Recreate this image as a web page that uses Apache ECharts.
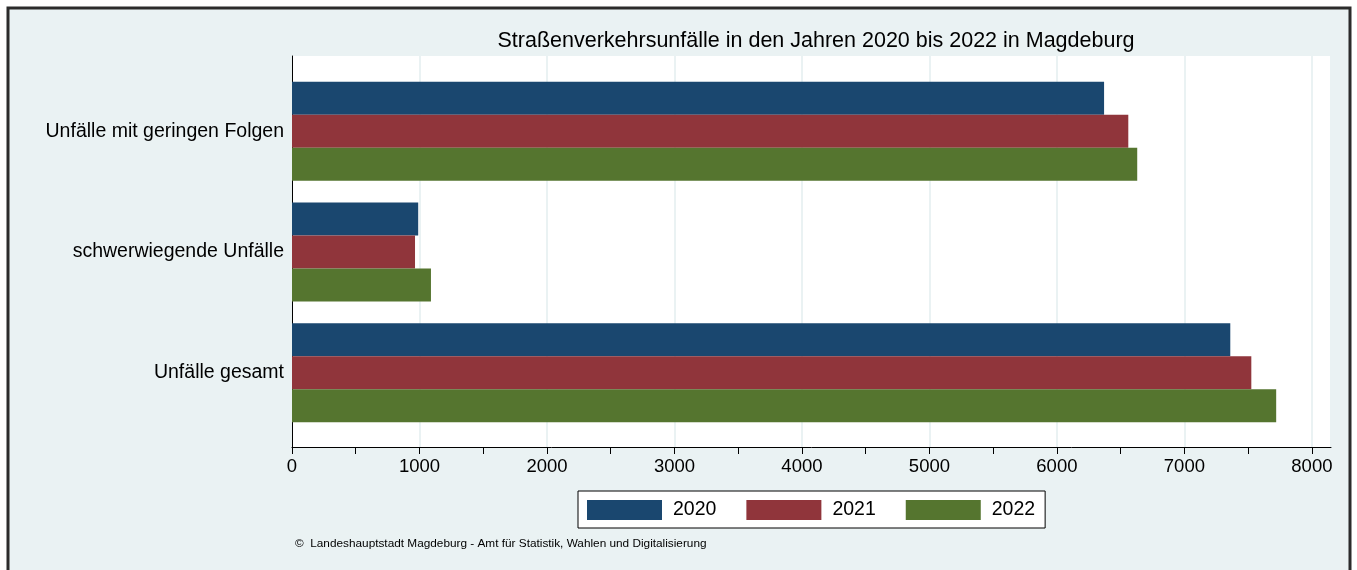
<!DOCTYPE html>
<html>
<head>
<meta charset="utf-8">
<script src="https://cdn.jsdelivr.net/npm/echarts@6/dist/echarts.min.js"></script>
<style>
  html, body { margin: 0; padding: 0; background: #fff; }
  #chart { width: 1357px; height: 570px; }
</style>
</head>
<body>
<div id="chart"></div>
<script>
// Kategorien von unten nach oben (Kategorieachse startet unten)
const categories = ['Unfälle gesamt', 'schwerwiegende Unfälle', 'Unfälle mit geringen Folgen'];
const years = ['2020', '2021', '2022'];
const values2020 = [7360, 990, 6370];
const values2021 = [7525, 965, 6560];
const values2022 = [7720, 1090, 6630];
const xTicks = [0, 500, 1000, 1500, 2000, 2500, 3000, 3500, 4000, 4500, 5000, 5500, 6000, 6500, 7000, 7500, 8000];
const xLabels = [0, 1000, 2000, 3000, 4000, 5000, 6000, 7000, 8000];
const xMax = 8150;

const colors = ['#1a476f', '#90353b', '#55752f'];
const font = 'Liberation Sans, Arial, sans-serif';

const myChart = echarts.init(document.getElementById('chart'));

myChart.setOption({
    animation: false,
    color: colors,
    textStyle: { fontFamily: font },
    graphic: [
        {
            type: 'rect', z: -100, silent: true,
            shape: { x: 8, y: 8, width: 1342, height: 580 },
            style: { fill: '#eaf2f3', stroke: '#2b2b2b', lineWidth: 3 }
        },
        {
            type: 'text', left: 295, top: 538, silent: true,
            style: {
                text: '©  Landeshauptstadt Magdeburg - Amt für Statistik, Wahlen und Digitalisierung',
                font: '11.8px ' + font, fill: '#000'
            }
        }
    ],
    title: {
        text: 'Straßenverkehrsunfälle in den Jahren 2020 bis 2022 in Magdeburg',
        left: 811, top: 25, textAlign: 'center',
        textStyle: { fontSize: 21.5, fontWeight: 'normal', color: '#000', fontFamily: font }
    },
    legend: {
        data: years,
        left: 578, top: 491,
        orient: 'horizontal',
        itemWidth: 75, itemHeight: 20, itemGap: 30,
        padding: [9, 10, 8, 9],
        backgroundColor: '#fff',
        borderColor: '#000', borderWidth: 1,
        icon: 'rect',
        textStyle: { fontSize: 19.5, lineHeight: 20, color: '#000', fontFamily: font, padding: [0, 0, 0, 6] }
    },
    grid: [
        // Balken
        { left: 292, right: 26, top: 71, height: 362 },
        // Rahmen / Achsen
        { left: 292, right: 26, top: 56, bottom: 123, show: true, backgroundColor: '#fff', borderWidth: 0 }
    ],
    xAxis: [
        { gridIndex: 0, type: 'value', min: 0, max: xMax, show: false },
        {
            gridIndex: 1, type: 'value', min: 0, max: xMax,
            axisLine: { show: true, lineStyle: { color: '#000', width: 1 } },
            axisTick: { show: true, length: 7, customValues: xTicks, lineStyle: { color: '#000' } },
            axisLabel: {
                customValues: xLabels, fontSize: 18.5, color: '#000', margin: 10, fontFamily: font,
                formatter: (v) => String(v)
            },
            splitLine: { show: false }
        },
        {
            gridIndex: 1, type: 'value', min: 0, max: xMax, interval: 1000,
            axisLine: { show: false }, axisTick: { show: false }, axisLabel: { show: false },
            splitLine: { show: true, lineStyle: { color: '#eaf2f3', width: 2 } }
        }
    ],
    yAxis: [
        {
            gridIndex: 0, type: 'category', data: categories,
            axisLine: { show: false }, axisTick: { show: false },
            axisLabel: { fontSize: 19.5, color: '#000', margin: 8, fontFamily: font }
        },
        {
            gridIndex: 1, type: 'value', min: 0, max: 1,
            axisLine: { show: true, lineStyle: { color: '#000', width: 1 } },
            axisTick: { show: false }, axisLabel: { show: false }, splitLine: { show: false }
        }
    ],
    series: [
        { name: '2020', type: 'bar', xAxisIndex: 0, yAxisIndex: 0, data: values2020, barWidth: 33, barGap: '0%' },
        { name: '2021', type: 'bar', xAxisIndex: 0, yAxisIndex: 0, data: values2021, barWidth: 33, barGap: '0%' },
        { name: '2022', type: 'bar', xAxisIndex: 0, yAxisIndex: 0, data: values2022, barWidth: 33, barGap: '0%' }
    ]
});

window.onresize = () => {
    myChart.resize();
};
</script>
</body>
</html>
